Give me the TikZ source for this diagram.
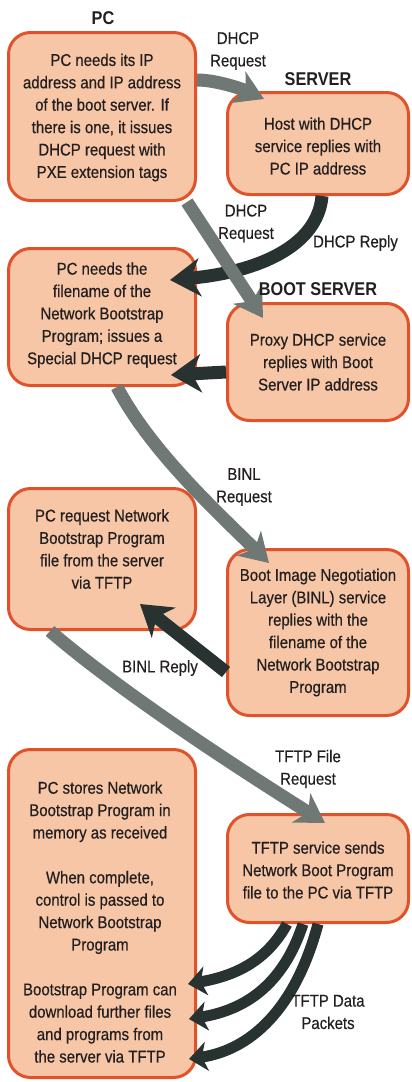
\documentclass[tikz,border=0pt]{standalone}
\usepackage{fontspec}
\setmainfont{Liberation Sans}[FakeStretch=0.88]
\newfontfamily\bodyfont{Liberation Sans}[FakeStretch=0.88,FakeBold=0.5]
\usetikzlibrary{arrows.meta,calc}
\definecolor{boxfill}{HTML}{F6C6A6}
\definecolor{boxline}{HTML}{E2522A}
\definecolor{arrgray}{HTML}{6F7874}
\definecolor{arrdark}{HTML}{283230}
\definecolor{txtcol}{HTML}{231F20}
\begin{document}
\begin{tikzpicture}[x=1pt,y=-1pt,
 box/.style={draw=boxline, fill=boxfill, line width=3pt, rounded corners=22pt, inner sep=0pt},
 body/.style={text=txtcol, align=center, font=\bodyfont\fontsize{17}{22.4}\selectfont, inner sep=0pt},
 ttl/.style={text=txtcol, font=\fontsize{18.5}{22}\selectfont\bfseries, inner sep=0pt},
 grayarrow/.style={draw=arrgray, line width=13pt, -{Stealth[length=28pt,width=34pt,inset=8pt]}},
 darkarrow/.style={draw=arrdark, line width=13pt, -{Stealth[length=30pt,width=38pt,inset=9pt]}},
 dataarrow/.style={draw=arrdark, line width=11pt, -{Stealth[length=18pt,width=29pt,inset=5pt]}},
]
\useasboundingbox (0,0) rectangle (412,1082);

% boxes
\node[box, minimum width=187pt, minimum height=168pt] (b1) at (102,116.5) {};
\node[box, minimum width=181pt, minimum height=102pt] (b2) at (318,143.5) {};
\node[box, minimum width=187pt, minimum height=137pt] (b3) at (102,317) {};
\node[box, minimum width=181pt, minimum height=117pt] (b4) at (318,362) {};
\node[box, minimum width=187pt, minimum height=141pt] (b5) at (102,559) {};
\node[box, minimum width=181pt, minimum height=166pt] (b6) at (318,632.5) {};
\node[box, minimum width=187pt, minimum height=328pt] (b7) at (102,913.5) {};
\node[box, minimum width=181pt, minimum height=108pt] (b8) at (318,868.5) {};

% dark arrows
\draw[darkarrow] ($(b2.north west)+(96,105)$) .. controls (318,245) and (260,272) .. ($(b3.north west)+(163,33)$);
\draw[darkarrow] ($(b4.north west)+(0,70)$) -- ($(b3.north west)+(164,128)$);
\draw[darkarrow] ($(b6.north west)+(0,124)$) -- ($(b5.north west)+(133,117)$);
\draw[dataarrow] ($(b8.north west)+(61,111)$) .. controls (268,958) and (240,975) .. ($(b7.north west)+(181,236)$);
\draw[dataarrow] ($(b8.north west)+(77,111)$) .. controls (283,985) and (245,1010) .. ($(b7.north west)+(182,271)$);
\draw[dataarrow] ($(b8.north west)+(92,111)$) .. controls (295,1010) and (250,1050) .. ($(b7.north west)+(182,311)$);

% gray arrows
\draw[grayarrow] ($(b1.north west)+(190,49)$) .. controls (215,80) and (240,88) .. ($(b2.north west)+(38,8)$);
\draw[grayarrow] ($(b1.north west)+(180,171)$) -- ($(b4.north west)+(37,16)$);
\draw[grayarrow] ($(b3.north west)+(110,140)$) .. controls (150,450) and (215,510) .. ($(b6.north west)+(43,15)$);
\draw[grayarrow] ($(b5.north west)+(43,144)$) .. controls (130,700) and (265,785) .. ($(b8.north west)+(99,10)$);

% titles
\node[ttl] (h1) at (103,18) {PC};
\node[ttl] (h2) at (318,79) {SERVER};
\node[ttl] (h3) at (318,289) {BOOT SERVER};

% box texts
\node[body] (t1) at (102,117.5) {PC needs its IP\\address and IP address\\of the boot server. If\\there is one, it issues\\DHCP request with\\PXE extension tags};
\node[body] (t2) at (318,146) {Host with DHCP\\service replies with\\PC IP address};
\node[body] (t3) at (102,315) {PC needs the\\filename of the\\Network Bootstrap\\Program; issues a\\Special DHCP request};
\node[body] (t4) at (318,362) {Proxy DHCP service\\replies with Boot\\Server IP address};
\node[body] (t5) at (102,549) {PC request Network\\Bootstrap Program\\file from the server\\via TFTP};
\node[body] (t6) at (318,632.5) {Boot Image Negotiation\\Layer (BINL) service\\replies with the\\filename of the\\Network Bootstrap\\Program};
\node[body] (t7) at (100,922) {PC stores Network\\Bootstrap Program in\\memory as received\\[22.4pt]When complete,\\control is passed to\\Network Bootstrap\\Program\\[22.4pt]Bootstrap Program can\\download further files\\and programs from\\the server via TFTP};
\node[body] (t8) at (318,870) {TFTP service sends\\Network Boot Program\\file to the PC via TFTP};

% connector labels
\node[body] (l1) at (238,51) {DHCP\\Request};
\node[body] (l2) at (246,223.5) {DHCP\\Request};
\node[body] (l3) at (355.5,243) {DHCP Reply};
\node[body] (l4) at (244,487) {BINL\\Request};
\node[body] (l5) at (160,668) {BINL Reply};
\node[body] (l6) at (308,769) {TFTP File\\Request};
\node[body] (l7) at (328,1012) {TFTP Data\\Packets};
\end{tikzpicture}
\end{document}
